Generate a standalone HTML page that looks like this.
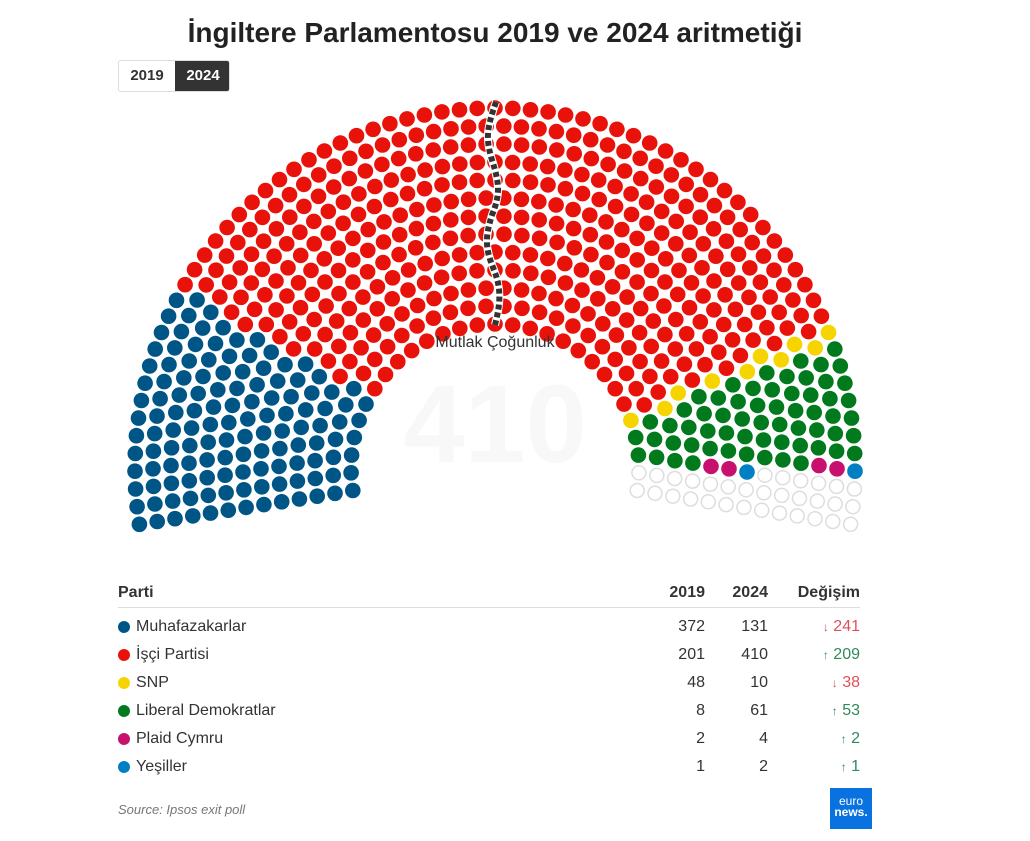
<!DOCTYPE html>
<html><head><meta charset="utf-8">
<style>
body{margin:0;background:#fff;font-family:"Liberation Sans","DejaVu Sans",sans-serif;color:#333;}
#wrap{position:relative;width:1030px;height:841px;overflow:hidden;}
.t{position:absolute;white-space:nowrap;}
</style></head><body>
<div id="wrap">
<div class="t" style="left:0;width:990px;text-align:center;top:17px;font-size:28px;font-weight:bold;color:#222;">İngiltere Parlamentosu 2019 ve 2024 aritmetiği</div>
<div style="position:absolute;left:118px;top:60px;width:112px;height:32px;border:1px solid #ddd;border-radius:3px;box-sizing:border-box;overflow:hidden;">
 <div style="position:absolute;left:0;top:0;width:56px;height:32px;line-height:30px;text-align:center;font-weight:bold;font-size:15px;color:#333;">2019</div>
 <div style="position:absolute;left:56px;top:-1px;width:56px;height:32px;line-height:32px;text-align:center;font-weight:bold;font-size:15px;color:#fff;background:#333;">2024</div>
</div>
<svg id="hemi" width="1030" height="560" style="position:absolute;left:0;top:0;">
 <text x="495" y="462" text-anchor="middle" font-size="110" font-weight="bold" fill="#f8f8f8" font-family="Liberation Sans, sans-serif">410</text>
 <g id="seats"></g>
 <path d="M496,102 C486,130 486,140 492,160 C500,185 500,195 492,215 C484,240 486,250 494,270 C502,290 500,305 495,325" fill="none" stroke="#fff" stroke-width="8"/>
 <path d="M496,102 C486,130 486,140 492,160 C500,185 500,195 492,215 C484,240 486,250 494,270 C502,290 500,305 495,325" fill="none" stroke="#333" stroke-width="6" stroke-dasharray="5,3"/>
 <text x="495" y="347" text-anchor="middle" font-size="16" fill="#333">Mutlak Çoğunluk</text>
</svg>
<div class="t" style="left:118px;top:584px;font-weight:bold;font-size:16px;">Parti</div>
<div class="t" style="left:645px;width:60px;text-align:right;top:584px;font-weight:bold;font-size:16px;">2019</div>
<div class="t" style="left:708px;width:60px;text-align:right;top:584px;font-weight:bold;font-size:16px;">2024</div>
<div class="t" style="left:760px;width:100px;text-align:right;top:584px;font-weight:bold;font-size:16px;">Değişim</div>
<div style="position:absolute;left:118px;top:607px;width:742px;height:1px;background:#ddd;"></div>
<div id="rows"></div>
<div class="t" style="left:118px;top:802px;font-size:13px;font-style:italic;color:#777;">Source: Ipsos exit poll</div>
<div style="position:absolute;left:830px;top:788px;width:42px;height:41px;background:#0a72e0;color:#fff;font-size:12px;line-height:11px;text-align:center;padding-top:8px;box-sizing:border-box;">euro<br><b>news.</b></div>
</div>
<script>
const parties=["Muhafazakarlar","İşçi Partisi","SNP","Liberal Demokratlar","Plaid Cymru","Yeşiller"];
const colors=["#005587","#e8120b","#f5d400","#007a1c","#c8106e","#0080c3"];
const seats2019=[372,201,48,8,2,1];
const seats2024=[131,410,10,61,4,2];
const totalSeats=650;
const NS="http://www.w3.org/2000/svg";
const cx=495,cy=468,rows=13,rIn=144,rOut=360;
const a0=-9*Math.PI/180,a1=189*Math.PI/180;
const radii=[];for(let i=0;i<rows;i++)radii.push(rIn+(rOut-rIn)*i/(rows-1));
const sumR=radii.reduce((a,b)=>a+b,0);
let counts=radii.map(r=>Math.round(totalSeats*r/sumR));
let diff=totalSeats-counts.reduce((a,b)=>a+b,0);counts[rows-1]+=diff;
const pos=[];
radii.forEach((r,i)=>{const n=counts[i];for(let k=0;k<n;k++){const a=a1-(a1-a0)*k/(n-1);pos.push({a:a,x:cx+r*Math.cos(a),y:cy-r*Math.sin(a)});}});
pos.sort((p,q)=>q.a-p.a);
const seatColors=[];
seats2024.forEach((n,i)=>{for(let k=0;k<n;k++)seatColors.push(i);});
const g=document.getElementById('seats');
pos.forEach((p,idx)=>{
 const c=document.createElementNS(NS,'circle');
 c.setAttribute('cx',p.x.toFixed(1));c.setAttribute('cy',p.y.toFixed(1));
 const pi=seatColors[idx];
 if(pi===undefined){c.setAttribute('r','7');c.setAttribute('fill','#fff');c.setAttribute('stroke','#ddd');c.setAttribute('stroke-width','1.5');}
 else{c.setAttribute('r','7.8');c.setAttribute('fill',colors[pi]);}
 
 
 g.appendChild(c);
});
const rowsEl=document.getElementById('rows');
parties.forEach((name,i)=>{
 const y=618+i*28;const d=seats2024[i]-seats2019[i];
 const up=d>=0;
 const row=document.createElement('div');
 
 
 row.innerHTML=`<div style="position:absolute;left:118px;top:${y+3}px;width:12px;height:12px;border-radius:50%;background:${colors[i]}"></div>
 <div class="t" style="left:136px;top:${y}px;font-size:16px;">${name}</div>
 <div class="t" style="left:645px;width:60px;text-align:right;top:${y}px;font-size:16px;">${seats2019[i]}</div>
 <div class="t" style="left:708px;width:60px;text-align:right;top:${y}px;font-size:16px;">${seats2024[i]}</div>
 <div class="t" style="left:760px;width:100px;text-align:right;top:${y}px;font-size:16px;color:${up?'#2f8a5a':'#e0505a'}"><span style="font-size:12px">${up?'↑':'↓'}</span> ${Math.abs(d)}</div>`;
 rowsEl.appendChild(row);
});
</script>
</body></html>
